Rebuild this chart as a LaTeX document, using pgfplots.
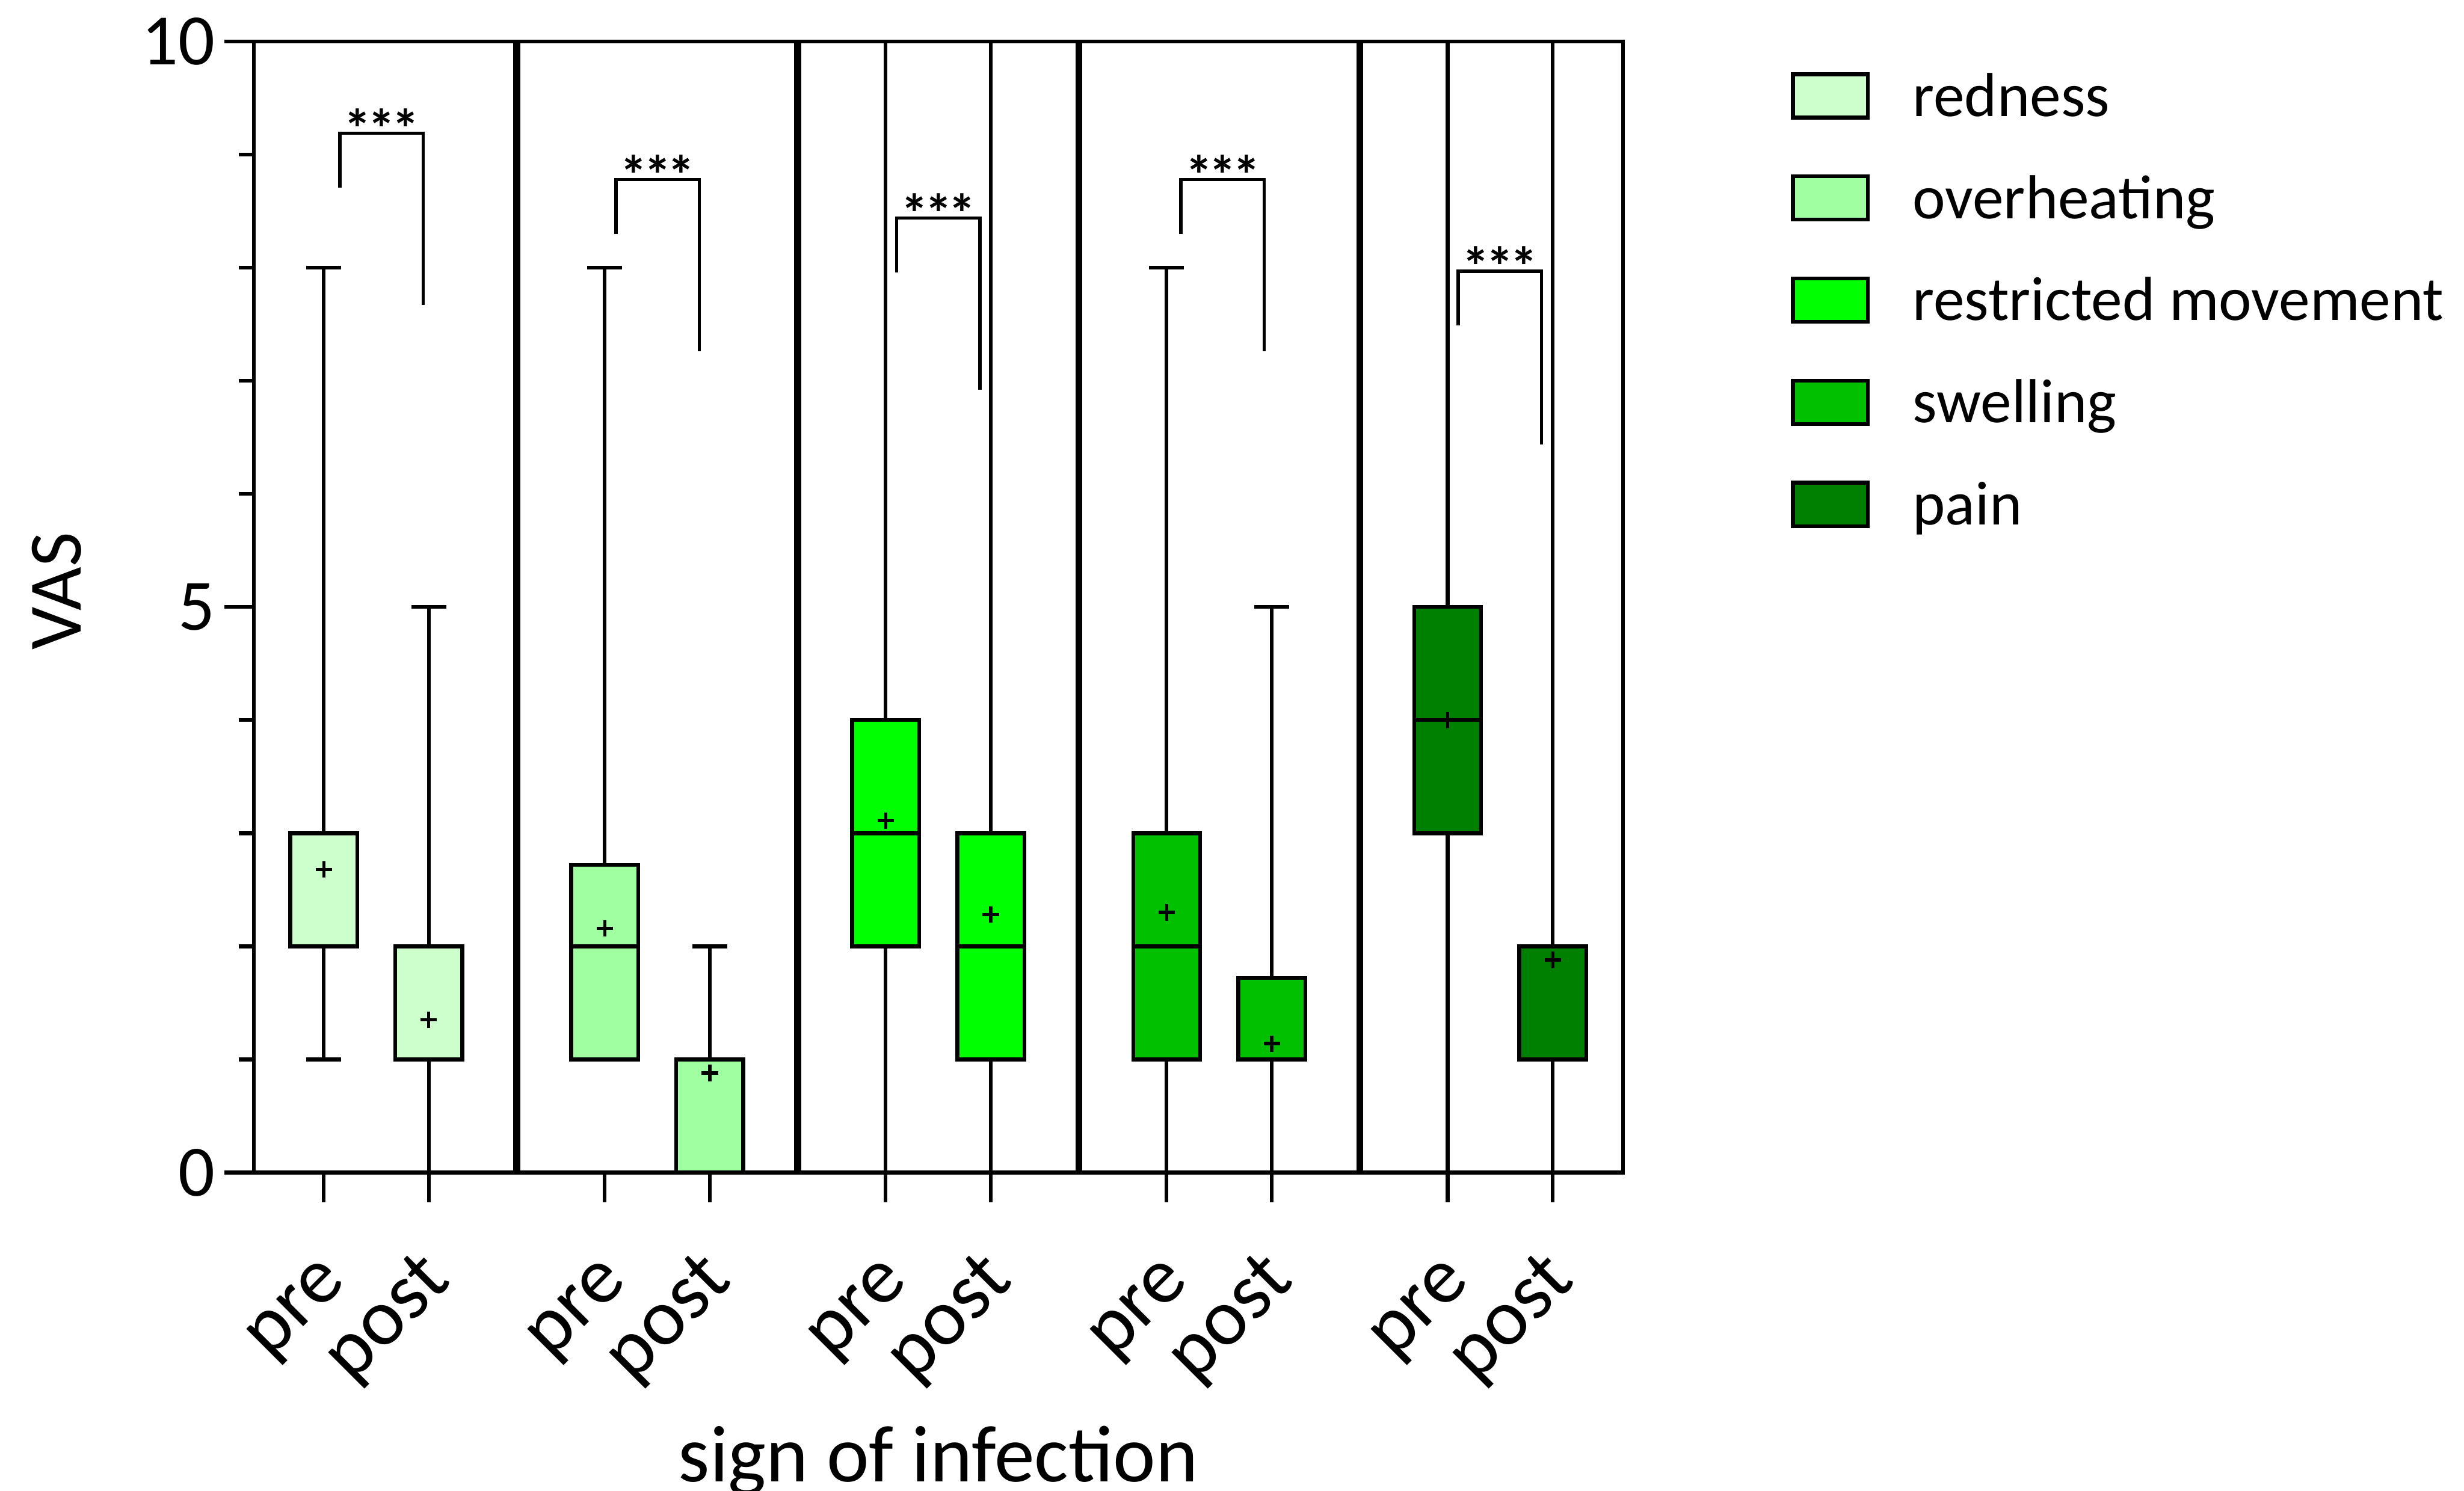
\documentclass[border=0pt]{standalone}
\usepackage{pgfplots}
\pgfplotsset{compat=1.18}
\usepgfplotslibrary{statistics}
\usepackage{fontspec}
\setmainfont{Carlito}
\definecolor{cRed}{HTML}{CCFFCC}
\definecolor{cOver}{HTML}{A0FFA0}
\definecolor{cRestr}{HTML}{00FF00}
\definecolor{cSwell}{HTML}{00C000}
\definecolor{cPain}{HTML}{008000}
\newcommand{\lstrut}{\rule[-1pt]{0pt}{9pt}}
\newcommand{\stars}{*\kern-0.6pt*\kern-0.6pt*}
\begin{document}
\begin{tikzpicture}
\useasboundingbox (-40.375pt,-50.675pt) rectangle (351.625pt,186.575pt);
\begin{axis}[
  scale only axis, width=217.825pt, height=179.95pt,
  xmin=1.615, xmax=10.328, ymin=0, ymax=10,
  clip=false,
  axis line style={line width=0.6pt},
  every tick/.style={black, line width=0.6pt},
  tick align=outside, xtick pos=left, ytick pos=left,
  major tick length=4.7pt, minor tick length=2.4pt,
  xtick={2.06,2.729,3.848,4.517,5.636,6.305,7.424,8.093,9.212,9.881},
  xticklabels={pre,post,pre,post,pre,post,pre,post,pre,post},
  ytick={0,5,10}, minor ytick={1,2,3,4,6,7,8,9},
  /pgf/number format/assume math mode=true,
  yticklabel style={font=\fontsize{11.5}{13}\selectfont, inner sep=0pt, anchor=east, xshift=-1.3pt},
  xticklabel style={font=\fontsize{12.8}{14}\selectfont, rotate=45, anchor=base east, inner sep=0pt, xshift=-6.25pt, yshift=-11.75pt},
  xlabel={sign of infection}, ylabel={VAS},
  xlabel style={font=\fontsize{12.8}{15}\selectfont, at={(axis description cs:0.5,-0.2733)}, anchor=base, inner sep=0pt},
  ylabel style={font=\fontsize{12}{14}\selectfont, at={(axis description cs:-0.144,0.514)}, anchor=center, inner sep=0pt},
  legend style={at={(axis description cs:1.1219,0.9795)}, anchor=north west, draw=none, fill=none, inner sep=0pt, row sep=6.75pt, font=\fontsize{9.9}{11}\selectfont, nodes={inner sep=0pt}, /tikz/every odd column/.append style={column sep=6.85pt}},
  legend cell align=left,
  legend image code/.code={\draw[#1, draw=black, line width=0.6pt] (0pt,-3.45pt) rectangle (11.9pt,3.45pt);},
  boxplot/draw direction=y,
  boxplot/box extend=0.426, boxplot/whisker extend=0.223,
  boxplot/every box/.style={line width=0.6pt},
  boxplot/every whisker/.style={line width=0.6pt},
  boxplot/every median/.style={line width=0.6pt},
]
% separators
\addplot[black, line width=1.1pt, forget plot] coordinates {(3.289,0)(3.289,10)};
\addplot[black, line width=1.1pt, forget plot] coordinates {(5.077,0)(5.077,10)};
\addplot[black, line width=1.1pt, forget plot] coordinates {(6.865,0)(6.865,10)};
\addplot[black, line width=1.1pt, forget plot] coordinates {(8.653,0)(8.653,10)};
% boxes
\addplot[forget plot, draw=black, fill=cRed, boxplot prepared={draw position=2.06, lower whisker=1, lower quartile=2, median=2, upper quartile=3, upper whisker=8}] coordinates {};
\addplot[forget plot, draw=black, fill=cRed, boxplot prepared={draw position=2.729, lower whisker=0, lower quartile=1, median=1, upper quartile=2, upper whisker=5}] coordinates {};
\addplot[forget plot, draw=black, fill=cOver, boxplot prepared={draw position=3.848, lower whisker=1, lower quartile=1, median=2, upper quartile=2.72, upper whisker=8}] coordinates {};
\addplot[forget plot, draw=black, fill=cOver, boxplot prepared={draw position=4.517, lower whisker=0, lower quartile=0, median=1, upper quartile=1, upper whisker=2}] coordinates {};
\addplot[forget plot, draw=black, fill=cRestr, boxplot prepared={draw position=5.636, lower whisker=0, lower quartile=2, median=3, upper quartile=4, upper whisker=10}] coordinates {};
\addplot[forget plot, draw=black, fill=cRestr, boxplot prepared={draw position=6.305, lower whisker=0, lower quartile=1, median=2, upper quartile=3, upper whisker=10}] coordinates {};
\addplot[forget plot, draw=black, fill=cSwell, boxplot prepared={draw position=7.424, lower whisker=0, lower quartile=1, median=2, upper quartile=3, upper whisker=8}] coordinates {};
\addplot[forget plot, draw=black, fill=cSwell, boxplot prepared={draw position=8.093, lower whisker=0, lower quartile=1, median=1, upper quartile=1.72, upper whisker=5}] coordinates {};
\addplot[forget plot, draw=black, fill=cPain, boxplot prepared={draw position=9.212, lower whisker=0, lower quartile=3, median=4, upper quartile=5, upper whisker=10}] coordinates {};
\addplot[forget plot, draw=black, fill=cPain, boxplot prepared={draw position=9.881, lower whisker=0, lower quartile=1, median=2, upper quartile=2, upper whisker=10}] coordinates {};
% means
\addplot[forget plot, only marks, mark=+, mark size=1.3pt, black, mark options={line width=0.5pt}] coordinates {(2.06,2.68)(2.729,1.35)(3.848,2.16)(4.517,0.88)(5.636,3.11)(6.305,2.28)(7.424,2.30)(8.093,1.14)(9.212,4.0)(9.881,1.88)};
% significance brackets
\addplot[forget plot, black, line width=0.55pt] coordinates {(2.164,8.71)(2.164,9.19)(2.693,9.19)(2.693,7.67)};
\addplot[forget plot, black, line width=0.55pt] coordinates {(3.920,8.30)(3.920,8.78)(4.450,8.78)(4.450,7.26)};
\addplot[forget plot, black, line width=0.55pt] coordinates {(5.706,7.96)(5.706,8.44)(6.237,8.44)(6.237,6.92)};
\addplot[forget plot, black, line width=0.55pt] coordinates {(7.516,8.30)(7.516,8.78)(8.045,8.78)(8.045,7.26)};
\addplot[forget plot, black, line width=0.55pt] coordinates {(9.280,7.49)(9.280,7.97)(9.810,7.97)(9.810,6.44)};
\node[anchor=base, inner sep=0pt, yshift=-2.35pt, font=\fontsize{8.8}{9}\selectfont\bfseries] at (axis cs:2.4285,9.19) {\stars};
\node[anchor=base, inner sep=0pt, yshift=-2.35pt, font=\fontsize{8.8}{9}\selectfont\bfseries] at (axis cs:4.185,8.78) {\stars};
\node[anchor=base, inner sep=0pt, yshift=-2.35pt, font=\fontsize{8.8}{9}\selectfont\bfseries] at (axis cs:5.9715,8.44) {\stars};
\node[anchor=base, inner sep=0pt, yshift=-2.35pt, font=\fontsize{8.8}{9}\selectfont\bfseries] at (axis cs:7.7805,8.78) {\stars};
\node[anchor=base, inner sep=0pt, yshift=-2.35pt, font=\fontsize{8.8}{9}\selectfont\bfseries] at (axis cs:9.545,7.97) {\stars};
% legend
\addlegendimage{fill=cRed}\addlegendentry{\lstrut redness}
\addlegendimage{fill=cOver}\addlegendentry{\lstrut overheating}
\addlegendimage{fill=cRestr}\addlegendentry{\lstrut restricted movement}
\addlegendimage{fill=cSwell}\addlegendentry{\lstrut swelling}
\addlegendimage{fill=cPain}\addlegendentry{\lstrut pain}
\end{axis}
\end{tikzpicture}
\end{document}
